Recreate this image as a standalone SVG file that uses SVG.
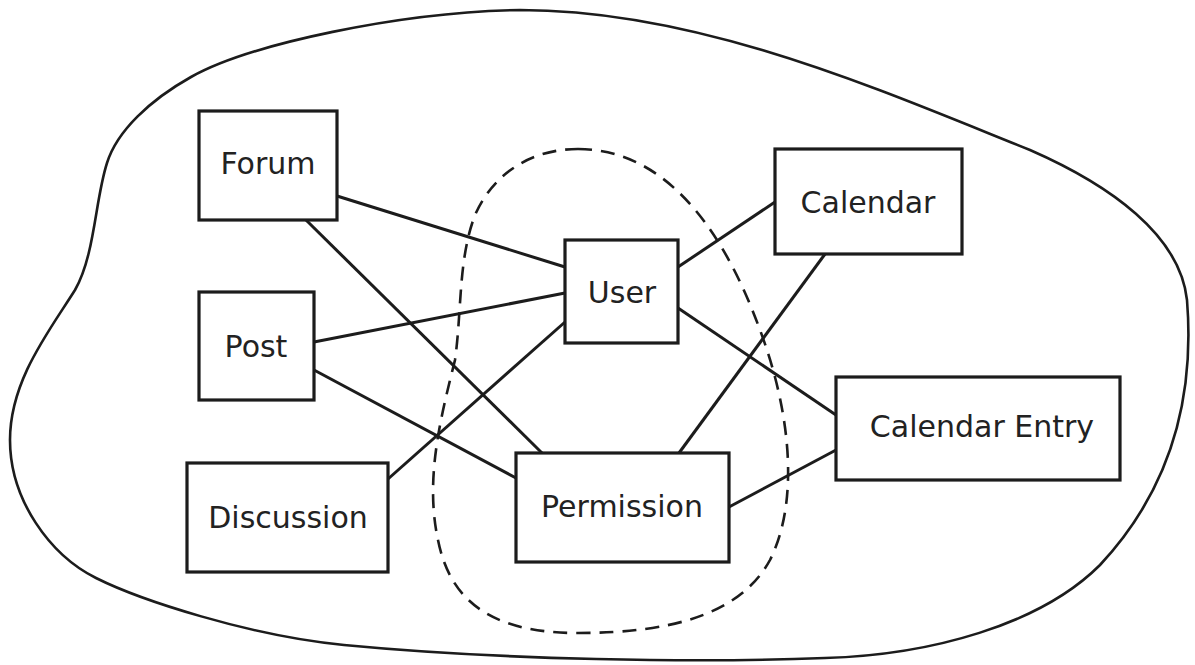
<svg xmlns="http://www.w3.org/2000/svg" width="1195" height="665" viewBox="0 0 1195 665">
<style>
.box{fill:#fff;stroke:#1c1c1c;stroke-width:3.2}
.lbl{font-family:"DejaVu Sans","Liberation Sans",sans-serif;font-size:30px;fill:#222;text-anchor:middle}
.con{stroke:#1c1c1c;stroke-width:3;fill:none}
.blob{fill:none;stroke:#1c1c1c;stroke-width:2.6}
.dash{fill:none;stroke:#1c1c1c;stroke-width:2.6;stroke-dasharray:14 9}
</style>
<rect width="1195" height="665" fill="#fff"/>
<path class="blob" d="M520,10 C700,10 880,90 1030,150 C1110,185 1180,235 1187,300 C1195,400 1170,490 1100,565 C1040,625 930,655 825,658 C700,663 500,660 344,645 C250,636 140,600 96,578 C50,555 10,500 10,440 C10,380 50,330 75,290 C95,255 95,200 107,163 C117,131 150,100 191,77 C250,44 400,12 520,10 Z"/>
<path class="dash" d="M578,149 C660,149 720,220 760,330 C790,410 800,500 770,560 C740,615 670,633 578,633 C490,633 450,600 438,540 C425,480 440,420 455,360 C462,310 458,260 475,215 C495,170 535,149 578,149 Z"/>
<g id="connectors">
<line class="con" x1="337" y1="196" x2="565" y2="267"/>
<line class="con" x1="306" y1="220" x2="542" y2="453"/>
<line class="con" x1="314" y1="342" x2="565" y2="293"/>
<line class="con" x1="314" y1="370" x2="516" y2="478"/>
<line class="con" x1="388" y1="479" x2="565" y2="322"/>
<line class="con" x1="678" y1="267" x2="775" y2="202"/>
<line class="con" x1="678" y1="308" x2="836" y2="415"/>
<line class="con" x1="825" y1="254" x2="679" y2="453"/>
<line class="con" x1="729" y1="507" x2="836" y2="450"/>
</g>
<g id="forum"><rect class="box" x="199" y="111" width="138" height="109"/><text class="lbl" x="268" y="174">Forum</text></g>
<g id="post"><rect class="box" x="199" y="292" width="115" height="108"/><text class="lbl" x="256" y="357">Post</text></g>
<g id="discussion"><rect class="box" x="187" y="463" width="201" height="109"/><text class="lbl" x="288" y="528">Discussion</text></g>
<g id="user"><rect class="box" x="565" y="240" width="113" height="103"/><text class="lbl" x="622" y="303">User</text></g>
<g id="permission"><rect class="box" x="516" y="453" width="213" height="109"/><text class="lbl" x="622" y="517">Permission</text></g>
<g id="calendar"><rect class="box" x="775" y="149" width="187" height="105"/><text class="lbl" x="868" y="213">Calendar</text></g>
<g id="calendar-entry"><rect class="box" x="836" y="377" width="284" height="103"/><text class="lbl" x="982" y="437">Calendar Entry</text></g>
</svg>
